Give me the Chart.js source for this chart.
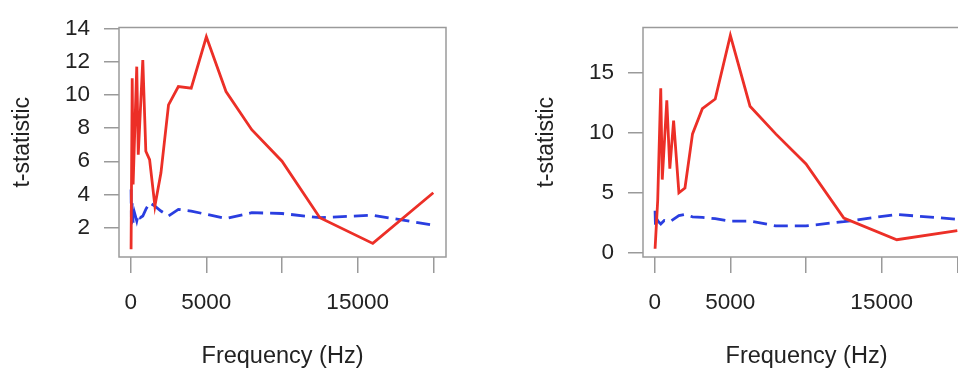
<!DOCTYPE html>
<html>
<head>
<meta charset="utf-8">
<script src="https://cdn.jsdelivr.net/npm/chart.js@4/dist/chart.umd.min.js"></script>
<style>
  html, body { margin: 0; padding: 0; background: #ffffff; overflow: hidden; width: 958px; height: 377px; }
  .panel { position: absolute; top: 0; width: 479px; height: 377px; }
  #pL { left: 0px; }
  #pR { left: 524px; }
</style>
</head>
<body>
<div class="panel" id="pL"><canvas id="cL" width="479" height="377"></canvas></div>
<div class="panel" id="pR"><canvas id="cR" width="479" height="377"></canvas></div>
<script>
// ---- Data ----
// Left panel
const leftRedFreq  = [25, 100, 160, 400, 500, 800, 1000, 1250, 1600, 2000, 2500, 3150, 4000, 5000, 6300, 8000, 10000, 12500, 16000, 20000];
const leftRedT     = [0.7, 11.0, 4.6, 11.7, 6.4, 12.1, 6.6, 6.1, 3.3, 5.3, 9.4, 10.5, 10.4, 13.5, 10.2, 7.9, 6.0, 2.6, 1.05, 4.1];
const leftBlueFreq = [25, 50, 100, 160, 250, 400, 500, 630, 800, 1000, 1250, 1600, 2000, 2500, 3150, 4000, 5000, 6300, 8000, 10000, 12500, 16000, 20000];
const leftBlueT    = [4.3, 2.2, 3.5, 2.3, 2.9, 2.4, 2.8, 2.6, 2.7, 3.1, 3.5, 3.3, 3.0, 2.7, 3.1, 3.0, 2.8, 2.55, 2.9, 2.85, 2.6, 2.75, 2.15];
// Right panel
const rightRedFreq  = [25, 200, 400, 500, 800, 1000, 1250, 1600, 2000, 2500, 3150, 4000, 5000, 6300, 8000, 10000, 12500, 16000, 20000];
const rightRedT     = [0.35, 4.4, 13.7, 6.1, 12.7, 7.0, 11.0, 5.0, 5.4, 9.9, 12.0, 12.8, 18.1, 12.2, 9.9, 7.4, 2.9, 1.1, 1.85];
const rightBlueFreq = [25, 50, 100, 250, 400, 630, 1000, 1600, 2000, 2500, 3150, 4000, 5000, 6300, 8000, 10000, 12500, 16000, 20000];
const rightBlueT    = [3.5, 2.3, 2.9, 2.6, 2.4, 2.7, 2.6, 3.1, 3.2, 3.0, 2.95, 2.85, 2.64, 2.65, 2.25, 2.25, 2.6, 3.2, 2.8];
// Axes
const xTickValues = [0, 5000, 10000, 15000, 20000];
const xTickLabels = ['0', '5000', '', '15000', ''];
const leftYTicks  = [2, 4, 6, 8, 10, 12, 14];
const rightYTicks = [0, 5, 10, 15];
const xTitle = 'Frequency (Hz)';
const yTitle = 't-statistic';

// ---- Styling ----
const FONT = '"Liberation Sans", Arial, Helvetica, sans-serif';
const AXIS_GREY = '#9a9a9a';
const TEXT = '#222222';
const RED = '#ec2f27';
const BLUE = '#2a3ee0';

function pts(xs, ys) { return xs.map((x, i) => ({ x: x, y: ys[i] })); }

const boxPlugin = {
  id: 'rbox',
  afterDraw(chart) {
    const a = chart.chartArea, ctx = chart.ctx;
    ctx.save();
    ctx.strokeStyle = AXIS_GREY;
    ctx.lineWidth = 1.5;
    ctx.strokeRect(a.left, a.top, a.right - a.left, a.bottom - a.top);
    ctx.restore();
  }
};

function makeChart(id, redX, redY, blueX, blueY, yTicks, yMin, yMax) {
  return new Chart(document.getElementById(id), {
    type: 'line',
    data: {
      datasets: [
        { data: pts(redX, redY), borderColor: RED, borderWidth: 2.8, pointRadius: 0, tension: 0, fill: false },
        { data: pts(blueX, blueY), borderColor: BLUE, borderWidth: 2.8, borderDash: [14, 7], pointRadius: 0, tension: 0, fill: false }
      ]
    },
    options: {
      responsive: false,
      animation: false,
      devicePixelRatio: 1,
      layout: { padding: { top: 15, right: 33, left: 0, bottom: 0 } },
      plugins: { legend: { display: false }, tooltip: { enabled: false } },
      scales: {
        x: {
          type: 'linear',
          min: -773, max: 20839,
          afterBuildTicks: s => { s.ticks = xTickValues.map(v => ({ value: v })); },
          afterFit: s => { s.height = 120; },
          border: { display: false },
          grid: { display: true, drawOnChartArea: false, drawTicks: true, tickLength: 16, color: AXIS_GREY, lineWidth: 1.5 },
          ticks: {
            autoSkip: false, maxRotation: 0, padding: 16, color: TEXT,
            font: { family: FONT, size: 22.5 },
            callback: (v) => { const i = xTickValues.indexOf(v); return i >= 0 ? xTickLabels[i] : ''; }
          },
          title: { display: true, text: xTitle, color: TEXT, font: { family: FONT, size: 23.5 }, padding: { top: 0, bottom: 6 } }
        },
        y: {
          type: 'linear',
          min: yMin, max: yMax,
          afterBuildTicks: s => { s.ticks = yTicks.map(v => ({ value: v })); },
          afterFit: s => { s.width = 119; },
          border: { display: false },
          grid: { display: true, drawOnChartArea: false, drawTicks: true, tickLength: 15, color: AXIS_GREY, lineWidth: 1.5 },
          ticks: { autoSkip: false, padding: 14, color: TEXT, font: { family: FONT, size: 22.5 } },
          title: { display: true, text: yTitle, color: TEXT, font: { family: FONT, size: 23 }, padding: { top: 9, bottom: 0 } }
        }
      }
    },
    plugins: [boxPlugin]
  });
}

makeChart('cL', leftRedFreq, leftRedT, leftBlueFreq, leftBlueT, leftYTicks, 0.23, 14.06);
makeChart('cR', rightRedFreq, rightRedT, rightBlueFreq, rightBlueT, rightYTicks, -0.34, 18.75);
</script>
</body>
</html>
